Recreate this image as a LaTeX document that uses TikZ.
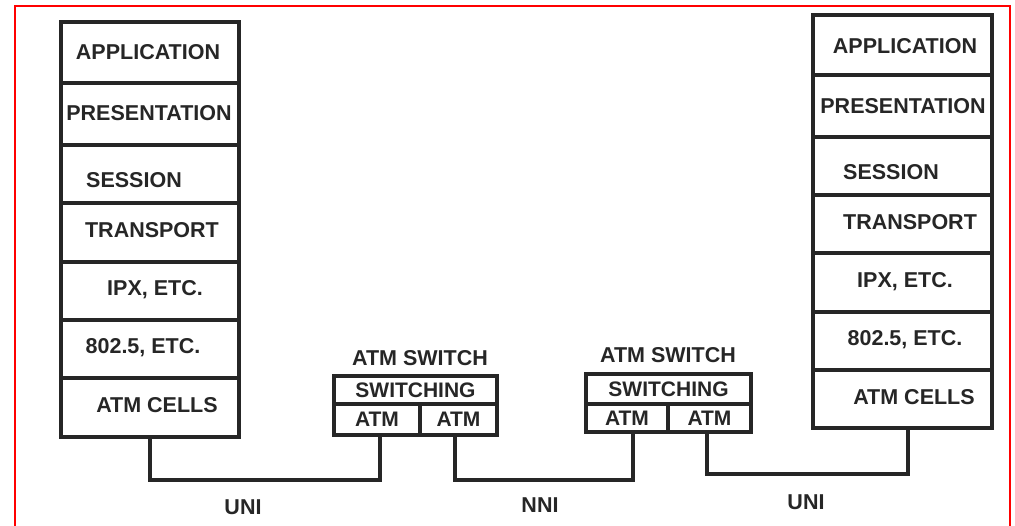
\documentclass[tikz,border=0pt]{standalone}
\usepackage{fontspec}
\setmainfont{Liberation Sans}
\begin{document}
\begin{tikzpicture}[x=1pt,y=-1pt,
  layerbox/.style={draw=black!85, line width=3.2pt, inner sep=0pt},
  cellbox/.style={draw=black!85, line width=3.4pt, inner sep=0pt, font=\fontsize{21}{24}\selectfont\bfseries, text=black!85},
  lbl/.style={font=\fontsize{21.5}{24}\selectfont\bfseries, text=black!85, inner sep=0pt},
  conn/.style={draw=black!85, line width=4.4pt, line cap=rect, line join=miter},
  frame/.style={draw=red, line width=1.8pt}]
\useasboundingbox (0,0) rectangle (1015,525);
\draw[frame] (15,526) -- (15,6) -- (1010,6) -- (1010,526);

% left stack
\node[layerbox, minimum width=178pt, minimum height=61pt] (L1) at (150,52.5) {};
\node[layerbox, minimum width=178pt, minimum height=62pt] (L2) at (150,114) {};
\node[layerbox, minimum width=178pt, minimum height=58pt] (L3) at (150,174) {};
\node[layerbox, minimum width=178pt, minimum height=59pt] (L4) at (150,232.5) {};
\node[layerbox, minimum width=178pt, minimum height=58pt] (L5) at (150,291) {};
\node[layerbox, minimum width=178pt, minimum height=58pt] (L6) at (150,349) {};
\node[layerbox, minimum width=178pt, minimum height=59pt] (L7) at (150,407.5) {};
\node[lbl] (tL1) at (148,52) {APPLICATION};
\node[lbl] (tL2) at (149,113) {PRESENTATION};
\node[lbl] (tL3) at (134,180) {SESSION};
\node[lbl] (tL4) at (152,230) {TRANSPORT};
\node[lbl] (tL5) at (155,290) {IPX, ETC.};
\node[lbl] (tL6) at (143,348) {802.5, ETC.};
\node[lbl] (tL7) at (157,405) {ATM CELLS};

% right stack
\node[layerbox, minimum width=179pt, minimum height=60pt] (R1) at (902.5,45) {};
\node[layerbox, minimum width=179pt, minimum height=62pt] (R2) at (902.5,106) {};
\node[layerbox, minimum width=179pt, minimum height=58pt] (R3) at (902.5,166) {};
\node[layerbox, minimum width=179pt, minimum height=58pt] (R4) at (902.5,224) {};
\node[layerbox, minimum width=179pt, minimum height=59pt] (R5) at (902.5,282.5) {};
\node[layerbox, minimum width=179pt, minimum height=58pt] (R6) at (902.5,341) {};
\node[layerbox, minimum width=179pt, minimum height=58pt] (R7) at (902.5,399) {};
\node[lbl] (tR1) at (905,46) {APPLICATION};
\node[lbl] (tR2) at (903,106) {PRESENTATION};
\node[lbl] (tR3) at (891,172) {SESSION};
\node[lbl] (tR4) at (910,222) {TRANSPORT};
\node[lbl] (tR5) at (905,282) {IPX, ETC.};
\node[lbl] (tR6) at (905,340) {802.5, ETC.};
\node[lbl] (tR7) at (914,397) {ATM CELLS};

% switch 1
\node[lbl] (T1) at (420,358) {ATM SWITCH};
\node[cellbox, minimum width=163pt, minimum height=28pt] (SW1) at (415.5,390) {SWITCHING};
\node[cellbox, minimum width=86pt, minimum height=31pt] (A1) at (377,419.5) {ATM};
\node[cellbox, minimum width=77pt, minimum height=31pt] (B1) at (458.5,419.5) {ATM};

% switch 2
\node[lbl] (T2) at (668,355) {ATM SWITCH};
\node[cellbox, minimum width=165pt, minimum height=30pt] (SW2) at (668.5,389) {SWITCHING};
\node[cellbox, minimum width=82pt, minimum height=28pt] (A2) at (627,418) {ATM};
\node[cellbox, minimum width=83pt, minimum height=28pt] (B2) at (709.5,418) {ATM};

% connectors
\coordinate (c1) at (150,480);
\coordinate (c2) at (455,480);
\coordinate (c3) at (707,474);
\draw[conn] (L7.south) -- (c1) -| ([xshift=3pt]A1.south);
\draw[conn] ([xshift=-3.5pt]B1.south) -- (c2) -| ([xshift=6pt]A2.south);
\draw[conn] ([xshift=-2.5pt]B2.south) -- (c3) -| ([xshift=5.5pt]R7.south);

% interface labels
\node[lbl] (uni1) at (243,507) {UNI};
\node[lbl] (nni) at (540,505) {NNI};
\node[lbl] (uni2) at (806,502) {UNI};
\end{tikzpicture}
\end{document}
